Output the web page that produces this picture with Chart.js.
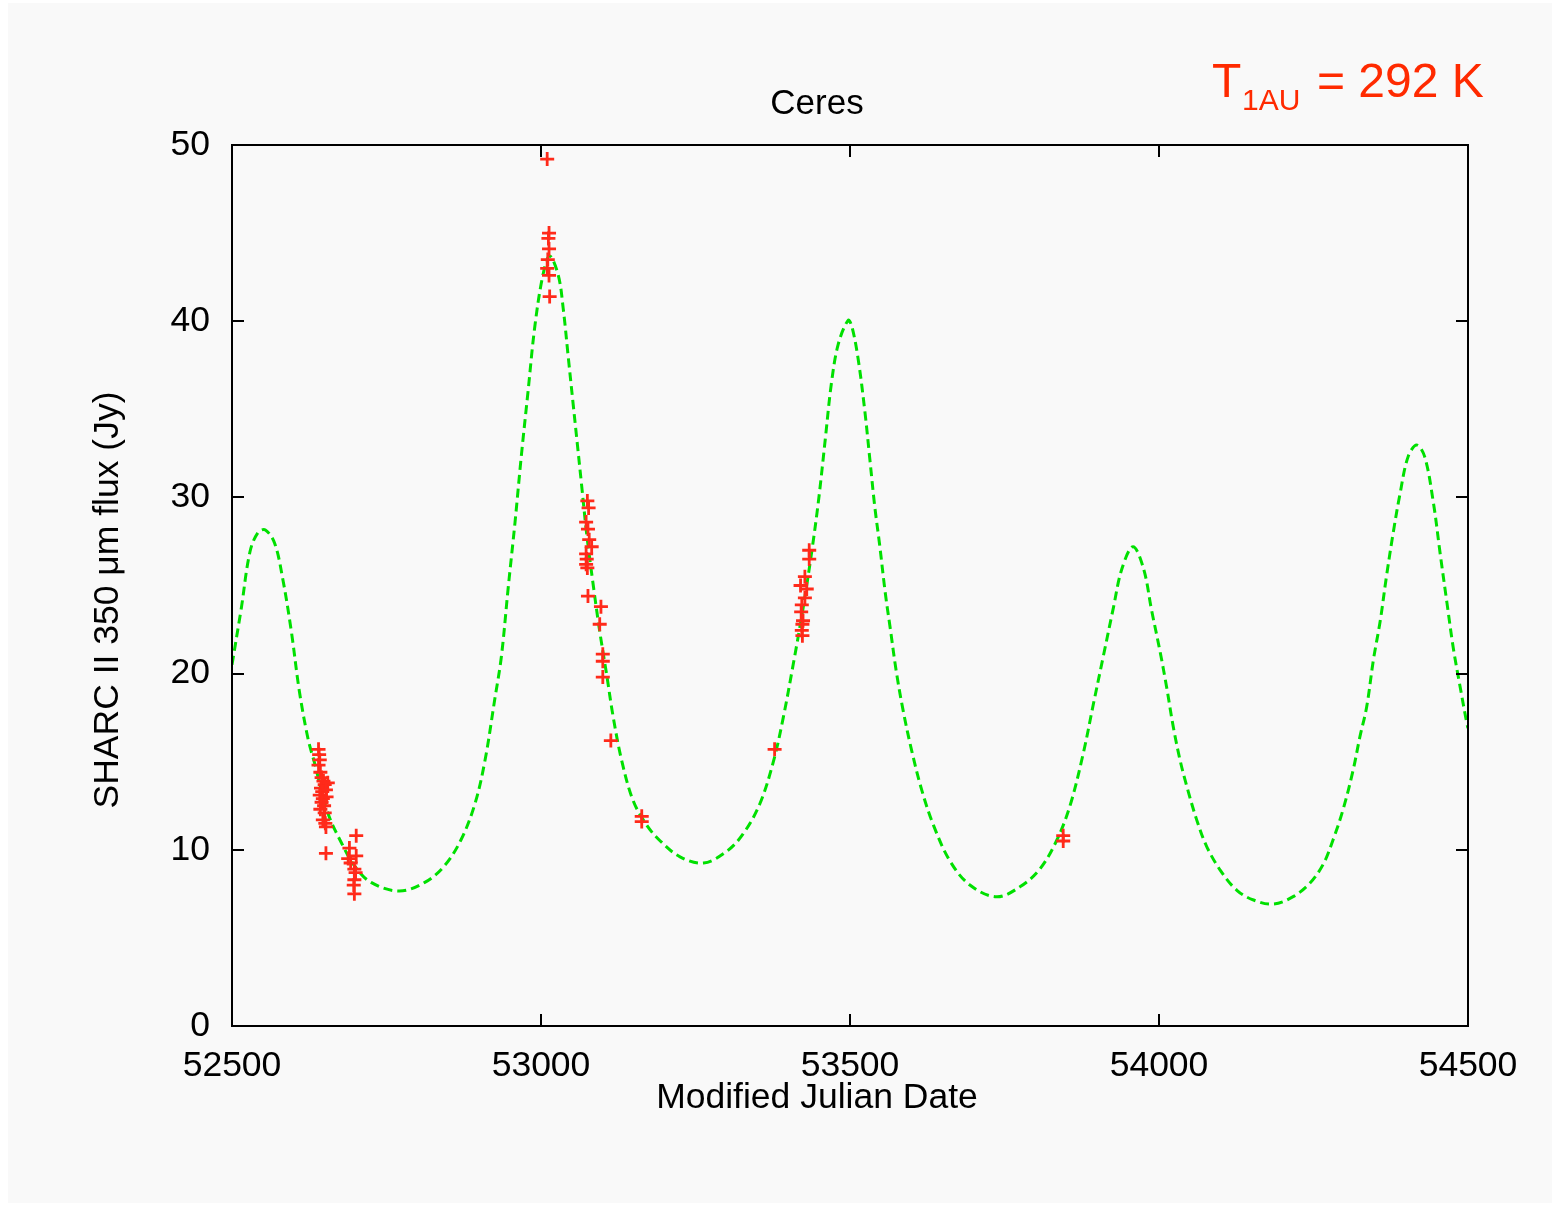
<!DOCTYPE html>
<html>
<head>
<meta charset="utf-8">
<script src="https://cdn.jsdelivr.net/npm/chart.js@4/dist/chart.umd.min.js"></script>
<style>
  html, body { margin: 0; padding: 0; background: #ffffff; }
  #wrap { width: 1560px; height: 1205px; }
</style>
</head>
<body>
<div id="wrap"><canvas id="myChart" width="1560" height="1205"></canvas></div>
<script>
//------------- data
const dataMjd = [
  52640, 52641, 52642, 52640, 52643, 52645, 52648, 52650, 52655, 52644, 52646, 52652,
  52642, 52647, 52653, 52645, 52649, 52643, 52650, 52647, 52651, 52652, 52652,
  52701, 52690, 52701, 52688, 52692, 52698, 52700, 52698, 52697, 52698,
  53010, 53013, 53012, 53013, 53011, 53010, 53013, 53014,
  53075, 53077, 53073, 53076, 53078, 53082, 53073, 53074, 53073, 53075, 53076,
  53097, 53095, 53100, 53100, 53100, 53113,
  53163, 53163,
  53378,
  53434, 53434, 53427, 53420, 53430, 53427, 53422, 53421, 53424, 53423, 53422, 53423,
  53845, 53845
]
const dataFlux = [
  15.7, 15.4, 15.1, 14.8, 14.4, 14.1, 13.9, 13.7, 13.8, 13.5, 13.3, 13.4,
  13.1, 12.9, 13.0, 12.7, 12.5, 12.3, 12.1, 11.7, 11.5, 11.3, 9.8,
  10.8, 10.1, 9.65, 9.5, 9.25, 8.9, 8.7, 8.3, 8.0, 7.5,
  49.2, 45.0, 44.7, 44.1, 43.5, 43.0, 42.6, 41.4,
  29.8, 29.4, 28.6, 28.2, 27.6, 27.2, 26.8, 26.5, 26.2, 26.0, 24.4,
  23.8, 22.8, 21.1, 20.7, 19.8, 16.2,
  11.9, 11.6,
  15.7,
  27.0, 26.5, 25.5, 25.0, 24.8, 24.3, 23.9, 23.5, 23.0, 22.8, 22.45, 22.15,
  10.8, 10.5
]
const modelMjd = [
  52500, 52515, 52529, 52542, 52554, 52569, 52582, 52596, 52609, 52623, 52633, 52655,
  52677, 52698, 52725, 52771, 52812, 52844, 52871, 52893, 52909, 52925, 52936, 52947,
  52958, 52968, 52979, 52990, 53003, 53014, 53028, 53036, 53044, 53052, 53058, 53066,
  53074, 53085, 53095, 53106, 53117, 53131, 53149, 53171, 53193, 53225, 53263, 53300,
  53327, 53354, 53376, 53392, 53408, 53424, 53438, 53449, 53460, 53470, 53481, 53497,
  53503, 53513, 53524, 53532, 53540, 53548, 53557, 53565, 53575, 53586, 53600, 53616,
  53635, 53662, 53694, 53737, 53775, 53807, 53834, 53856, 53877, 53894, 53910, 53926,
  53940, 53958, 53975, 53988, 54002, 54012, 54023, 54034, 54045, 54061, 54077, 54099,
  54126, 54153, 54185, 54217, 54244, 54266, 54282, 54298, 54314, 54325, 54336, 54347,
  54358, 54368, 54379, 54390, 54403, 54417, 54430, 54444, 54455, 54466, 54476, 54487,
  54498, 54500
]
const modelFlux = [
  20.5, 23.7, 26.9, 28.0, 28.15, 27.4, 25.4, 22.4, 19.0, 16.3, 15.0, 12.1,
  10.4, 9.1, 8.15, 7.66, 8.15, 9.1, 10.6, 12.6, 15.0, 18.5, 21.0, 24.9,
  28.6, 32.3, 36.0, 39.7, 42.6, 43.7, 42.6, 40.7, 38.0, 35.3, 33.3, 30.6,
  27.9, 24.9, 22.4, 20.0, 17.5, 15.0, 12.8, 11.4, 10.5, 9.6, 9.25, 9.9,
  10.9, 12.6, 15.0, 17.5, 20.5, 23.7, 26.9, 29.8, 33.3, 36.5, 38.7, 40.05,
  39.7, 37.9, 34.9, 32.2, 29.5, 27.3, 24.6, 22.6, 20.1, 17.9, 15.6, 13.4,
  11.4, 9.35, 8.0, 7.33, 7.9, 8.9, 10.5, 12.5, 15.4, 18.3, 21.0, 23.7,
  25.95, 27.2, 25.95, 23.6, 21.2, 19.3, 17.0, 15.1, 13.6, 11.7, 10.2, 8.85,
  7.7, 7.15, 6.92, 7.34, 8.1, 9.2, 10.6, 12.3, 14.5, 16.4, 18.1, 20.8,
  23.0, 25.5, 28.0, 30.2, 32.3, 32.97, 32.3, 29.7, 26.8, 24.0, 21.5, 19.3,
  17.2, 16.9
]
const xTicks = [52500, 53000, 53500, 54000, 54500]
const yTicks = [0, 10, 20, 30, 40, 50]

const FONT = "'Liberation Sans', Arial, sans-serif"

//------------- background panel, frame, inward ticks, text
const decor = {
  id: 'decor',
  beforeDraw(chart) {
    const c = chart.ctx
    c.save()
    c.fillStyle = '#ffffff'
    c.fillRect(0, 0, chart.width, chart.height)
    c.fillStyle = '#f9f9f9'
    c.fillRect(8, 3, 1544, 1200)
    c.restore()
  },
  afterDraw(chart) {
    const c = chart.ctx
    const a = chart.chartArea
    const xs = chart.scales.x, ys = chart.scales.y
    c.save()
    c.strokeStyle = '#000'
    c.lineWidth = 2
    c.strokeRect(a.left, a.top, a.right - a.left, a.bottom - a.top)
    c.beginPath()
    const tl = 12
    xTicks.forEach(v => {
      const px = Math.round(xs.getPixelForValue(v))
      c.moveTo(px, a.bottom); c.lineTo(px, a.bottom - tl)
      c.moveTo(px, a.top); c.lineTo(px, a.top + tl)
    })
    yTicks.forEach(v => {
      const py = Math.round(ys.getPixelForValue(v))
      c.moveTo(a.left, py); c.lineTo(a.left + tl, py)
      c.moveTo(a.right, py); c.lineTo(a.right - tl, py)
    })
    c.stroke()

    // title and axis labels
    c.fillStyle = '#000'
    c.textAlign = 'center'
    c.textBaseline = 'middle'
    c.font = '35px ' + FONT
    c.fillText('Ceres', 817, 104)
    c.font = '35.5px ' + FONT
    c.fillText('Modified Julian Date', 817, 1098)
    c.save()
    c.translate(108, 600)
    c.rotate(-Math.PI / 2)
    c.fillText('SHARC II 350 \u03bcm flux (Jy)', 0, 0)
    c.restore()

    // T_1AU annotation
    c.fillStyle = '#ff2a00'
    c.textAlign = 'left'
    c.textBaseline = 'alphabetic'
    c.font = '48px ' + FONT
    c.fillText('T', 1212, 97)
    c.font = '30px ' + FONT
    c.fillText('1AU', 1242, 110)
    c.font = '48px ' + FONT
    c.fillText('= 292 K', 1317, 97)
    c.restore()
  }
}

function drawChart() {
  const ctx = document.getElementById('myChart').getContext('2d')
  const points = dataMjd.map((x, i) => ({x: x, y: dataFlux[i]}))
  const model = modelMjd.map((x, i) => ({x: x, y: modelFlux[i]}))

  Graph = new Chart(ctx, {
    type: 'scatter',
    data: {
      datasets: [{
        label: 'SHARC II',
        data: points,
        pointStyle: 'cross',
        pointRadius: 7,
        borderColor: '#ff2a1a',
        backgroundColor: '#ff2a1a',
        borderWidth: 2.8,
        showLine: false,
        order: 0
      }, {
        label: 'model',
        data: model,
        showLine: true,
        borderColor: '#00e000',
        borderWidth: 3,
        borderDash: [9, 5],
        pointRadius: 0,
        tension: 0.35,
        fill: false,
        order: 1
      }]
    },
    options: {
      responsive: false,
      animation: false,
      events: [],
      layout: { padding: { top: 145, right: 92, left: 0, bottom: 0 } },
      plugins: {
        legend: { display: false },
        tooltip: { enabled: false },
        title: { display: false }
      },
      scales: {
        x: {
          type: 'linear',
          min: 52500,
          max: 54500,
          afterBuildTicks: s => { s.ticks = xTicks.map(v => ({value: v})) },
          afterFit: s => { s.height = 179 },
          grid: { display: false, drawTicks: false },
          border: { display: false },
          ticks: {
            color: '#000',
            padding: 19,
            maxRotation: 0,
            font: { family: FONT, size: 35.5 },
            callback: v => String(v)
          }
        },
        y: {
          type: 'linear',
          min: 0,
          max: 50,
          afterBuildTicks: s => { s.ticks = yTicks.map(v => ({value: v})) },
          afterFit: s => { s.width = 232 },
          grid: { display: false, drawTicks: false },
          border: { display: false },
          ticks: {
            color: '#000',
            padding: 22,
            font: { family: FONT, size: 35.5 },
            callback: v => String(v)
          }
        }
      }
    },
    plugins: [decor]
  })
}
drawChart()
</script>
</body>
</html>
